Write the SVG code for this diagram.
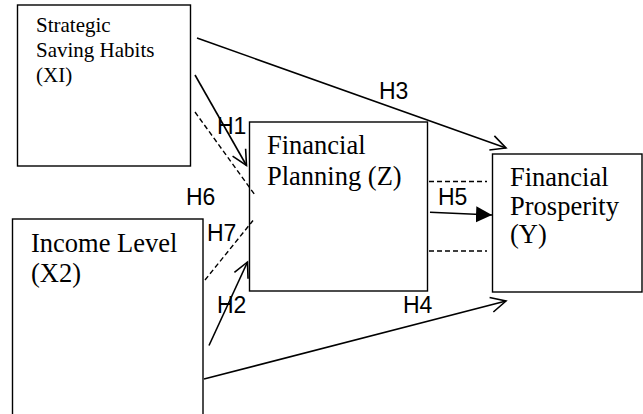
<svg xmlns="http://www.w3.org/2000/svg" width="643" height="414" viewBox="0 0 643 414">
<defs>
<style>
.box{fill:#fff;stroke:#000;stroke-width:1.4}
.serif{font-family:"Liberation Serif","Times New Roman",serif;fill:#000}
.lbl{font-family:"Liberation Sans",Arial,sans-serif;font-size:23px;fill:#000}
.ln{stroke:#000;stroke-width:1.6;fill:none}
.dash{stroke:#000;stroke-width:1.4;fill:none;stroke-dasharray:5 3}
</style>
<marker id="open" markerWidth="20" markerHeight="20" refX="16" refY="10" orient="auto" markerUnits="userSpaceOnUse">
<path d="M1,2.5 L16,10 L1,17.5" fill="none" stroke="#000" stroke-width="1.6"/>
</marker>
<marker id="solid" markerWidth="18" markerHeight="18" refX="16" refY="9" orient="auto" markerUnits="userSpaceOnUse">
<path d="M0,1 L16,9 L0,17 Z" fill="#000"/>
</marker>
</defs>
<rect width="643" height="414" fill="#fff"/>
<g id="node-x1">
<rect class="box" x="17.5" y="5" width="173" height="161"/>
<text class="serif" font-size="21" x="36" y="32">Strategic</text>
<text class="serif" font-size="21" x="36" y="57">Saving Habits</text>
<text class="serif" font-size="21" x="36" y="82">(XI)</text>
</g>
<g id="node-x2">
<rect class="box" x="12.5" y="219" width="190.5" height="210"/>
<text class="serif" font-size="26.5" x="31" y="252">Income Level</text>
<text class="serif" font-size="26.5" x="31" y="282">(X2)</text>
</g>
<g id="node-z">
<rect class="box" x="249.5" y="122" width="178" height="169"/>
<text class="serif" font-size="26.5" x="267" y="154">Financial</text>
<text class="serif" font-size="26.5" x="267" y="185">Planning (Z)</text>
</g>
<g id="node-y">
<rect class="box" x="492.5" y="154" width="149.5" height="138"/>
<text class="serif" font-size="26.5" x="510" y="186">Financial</text>
<text class="serif" font-size="26.5" x="510" y="215">Prosperity</text>
<text class="serif" font-size="26.5" x="510" y="243">(Y)</text>
</g>
<g id="connectors">
<line class="ln" x1="197" y1="38" x2="506" y2="148" marker-end="url(#open)"/>
<line class="ln" x1="195" y1="75" x2="246.5" y2="165.5" marker-end="url(#open)"/>
<line class="ln" x1="209" y1="345.5" x2="247.5" y2="262" marker-end="url(#open)"/>
<line class="ln" x1="204" y1="379" x2="506" y2="301" marker-end="url(#open)"/>
<line class="ln" x1="430" y1="212.3" x2="492" y2="215" marker-end="url(#solid)"/>
<line class="dash" x1="195" y1="112" x2="255" y2="195"/>
<line class="dash" x1="205" y1="280" x2="253" y2="220.5"/>
<line class="dash" x1="429" y1="181.5" x2="487" y2="181.5"/>
<line class="dash" x1="429" y1="251" x2="487" y2="251"/>
</g>
<g id="labels">
<text class="lbl" x="379" y="99">H3</text>
<text class="lbl" x="217" y="134">H1</text>
<text class="lbl" x="186" y="205">H6</text>
<text class="lbl" x="207" y="241">H7</text>
<text class="lbl" x="438" y="205">H5</text>
<text class="lbl" x="217" y="313">H2</text>
<text class="lbl" x="403" y="313">H4</text>
</g>
</svg>
